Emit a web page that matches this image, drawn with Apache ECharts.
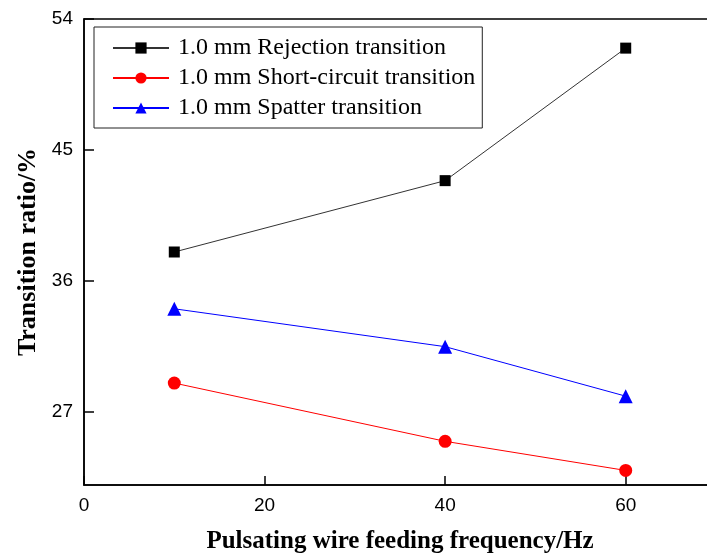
<!DOCTYPE html>
<html><head><meta charset="utf-8">
<script src="https://cdn.jsdelivr.net/npm/echarts@6/dist/echarts.min.js"></script>
<style>html,body{margin:0;padding:0;background:#fff;overflow:hidden}#c{width:707px;height:558px}</style>
</head><body><div id="c"></div>
<script>
const xValues = [10, 40, 60];
const rejection = [38.0, 42.9, 52.0];
const shortCircuit = [29.0, 25.0, 23.0];
const spatter = [34.1, 31.5, 28.1];
const seriesNames = ['1.0 mm Rejection transition', '1.0 mm Short-circuit transition', '1.0 mm Spatter transition'];
const yTicks = [27, 36, 45, 54];
const xTicks = [0, 20, 40, 60];

const chart = echarts.init(document.getElementById('c'), null, {renderer: 'canvas'});
const pairs = arr => xValues.map((x, i) => [x, arr[i]]);
const serif = '"Liberation Serif","Times New Roman",serif';
const sans = '"Liberation Sans",Arial,sans-serif';
chart.setOption({
  animation: false,
  backgroundColor: '#fff',
  grid: {left: 84, right: -9, top: 19, bottom: 73, outerBoundsMode: 'none', containLabel: false,
         show: true, borderColor: '#000', borderWidth: 1.5, backgroundColor: 'transparent'},
  legend: {
    orient: 'vertical', left: 94, top: 27,
    itemWidth: 56, itemHeight: 14, itemGap: 6,
    padding: [9, 7, 8, 18],
    borderColor: '#222', borderWidth: 1,
    textStyle: {fontFamily: serif, fontSize: 24, color: '#000', lineHeight: 24, padding: [0, 0, 0, 4]},
    data: seriesNames
  },
  xAxis: {
    type: 'value', min: 0, max: 70, interval: 10,
    name: 'Pulsating wire feeding frequency/Hz', nameLocation: 'middle', nameGap: 44,
    nameTextStyle: {fontFamily: serif, fontSize: 25, fontWeight: 'bold', color: '#000'},
    axisLine: {show: true, lineStyle: {color: '#000', width: 1.5}},
    axisTick: {show: true, inside: true, length: 9, lineStyle: {color: '#000', width: 1.5}, customValues: xTicks},
    axisLabel: {fontFamily: sans, fontSize: 19, color: '#000', margin: 11, customValues: xTicks},
    splitLine: {show: false}
  },
  yAxis: {
    type: 'value', min: 22, max: 54,
    name: 'Transition ratio/%', nameLocation: 'middle', nameGap: 43,
    nameTextStyle: {fontFamily: serif, fontSize: 26, fontWeight: 'bold', color: '#000'},
    axisLine: {show: true, lineStyle: {color: '#000', width: 1.5}},
    axisTick: {show: true, inside: true, length: 10, lineStyle: {color: '#000', width: 1.5}, customValues: yTicks},
    axisLabel: {fontFamily: sans, fontSize: 19, color: '#000', margin: 11, customValues: yTicks},
    splitLine: {show: false}
  },
  series: [
    {name: seriesNames[0], type: 'line', data: pairs(rejection), symbol: 'rect', symbolSize: 11,
     itemStyle: {color: '#000'}, lineStyle: {color: '#333', width: 1}},
    {name: seriesNames[1], type: 'line', data: pairs(shortCircuit), symbol: 'circle', symbolSize: 13,
     itemStyle: {color: '#ff0000'}, lineStyle: {color: '#ff0000', width: 1}},
    {name: seriesNames[2], type: 'line', data: pairs(spatter), symbol: 'triangle', symbolSize: 14,
     itemStyle: {color: '#0000ff'}, lineStyle: {color: '#0000ff', width: 1}}
  ]
});
</script></body></html>
